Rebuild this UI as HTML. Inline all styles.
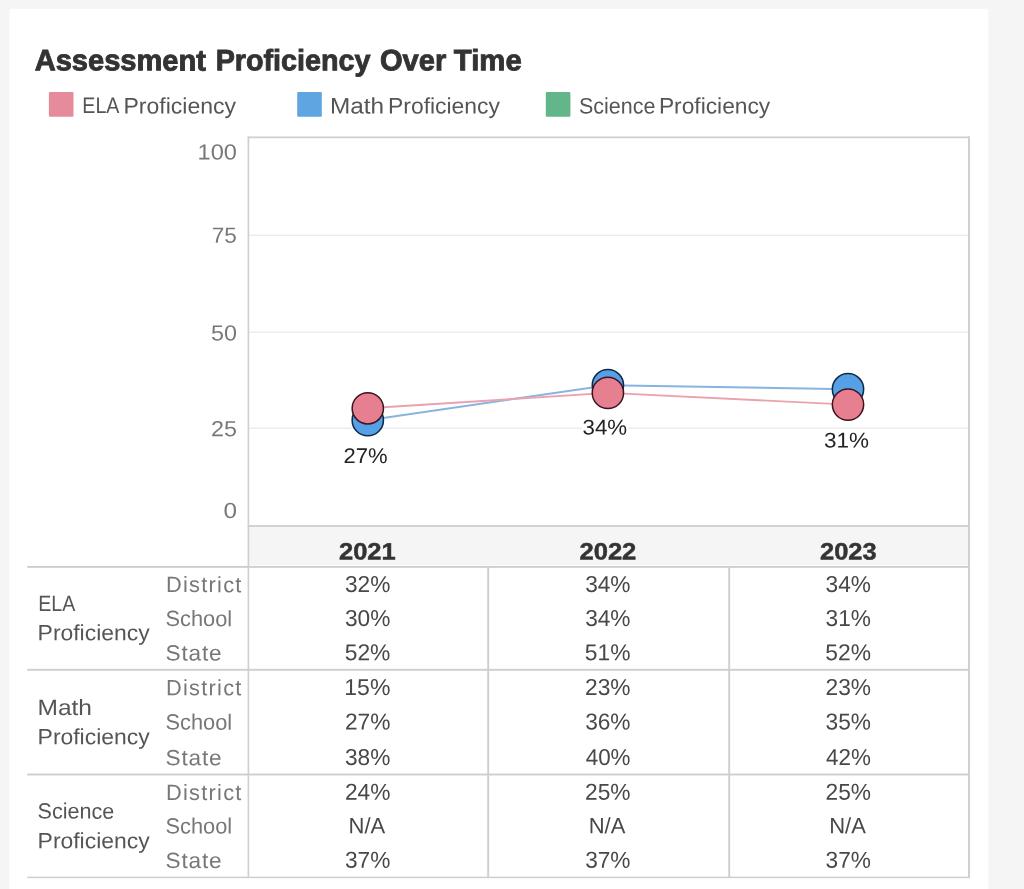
<!DOCTYPE html>
<html><head><meta charset="utf-8">
<style>
html,body{margin:0;padding:0;}
body{width:1024px;height:889px;background:#f5f5f5;position:relative;overflow:hidden;font-family:"Liberation Sans",sans-serif;}
.t{position:absolute;white-space:nowrap;line-height:1;transform-origin:0 0;}
.sw{position:absolute;border-radius:1px;}
svg{position:absolute;left:0;top:0;}
</style></head><body>
<svg width="1024" height="889" viewBox="0 0 1024 889">
<rect x="9.4" y="8.8" width="978.8" height="882" fill="#fff"/>
<rect x="48.9" y="92.1" width="24.6" height="24.7" rx="1" fill="#e68b9c"/>
<rect x="297.2" y="92.1" width="24.6" height="24.7" rx="1" fill="#5ea5e1"/>
<rect x="545.8" y="92.1" width="24.6" height="24.7" rx="1" fill="#63b58a"/>
<rect x="249" y="526.5" width="720" height="38.8" fill="#f5f5f5"/>
<rect x="249" y="234.60" width="719" height="1.4" fill="#ebebeb"/>
<rect x="249" y="331.60" width="719" height="1.4" fill="#ebebeb"/>
<rect x="249" y="427.60" width="719" height="1.4" fill="#ebebeb"/>
<rect x="342.5" y="446" width="46.2" height="19" fill="#fff"/>
<rect x="581.8" y="417.5" width="46.6" height="19.0" fill="#fff"/>
<rect x="823.3" y="430.5" width="47.0" height="19.0" fill="#fff"/>
<rect x="247.6" y="136.50" width="722.4" height="1.7" fill="#cecece"/>
<rect x="247.6" y="525.10" width="722.4" height="1.8" fill="#cecece"/>
<rect x="27.2" y="565.95" width="942.8" height="1.9" fill="#cecece"/>
<rect x="27.2" y="668.85" width="942.8" height="1.9" fill="#cecece"/>
<rect x="27.2" y="773.55" width="942.8" height="1.9" fill="#cecece"/>
<rect x="27.2" y="876.65" width="942.8" height="1.5" fill="#cecece"/>
<rect x="247.60" y="136.5" width="1.6" height="741.5" fill="#cecece"/>
<rect x="968.05" y="136.5" width="1.9" height="741.5" fill="#cecece"/>
<rect x="487.25" y="566" width="1.9" height="312" fill="#cecece"/>
<rect x="728.25" y="566" width="1.9" height="312" fill="#cecece"/>
<polyline points="367.8,420.2 607.9,385.2 848.0,389.2" fill="none" stroke="#86b5df" stroke-width="1.9"/>
<polyline points="367.8,408.3 607.9,392.9 848.0,404.6" fill="none" stroke="#eba2af" stroke-width="1.9"/>
<g stroke-width="1.5">
<circle cx="367.8" cy="420.2" r="15.65" fill="#55a0e6" stroke="#0e2a45"/><circle cx="367.8" cy="408.3" r="15.65" fill="#e67f90" stroke="#3b1420"/>
<circle cx="607.9" cy="385.2" r="15.65" fill="#55a0e6" stroke="#0e2a45"/><circle cx="607.9" cy="392.9" r="15.65" fill="#e67f90" stroke="#3b1420"/>
<circle cx="848.0" cy="389.2" r="15.65" fill="#55a0e6" stroke="#0e2a45"/><circle cx="848.0" cy="404.6" r="15.65" fill="#e67f90" stroke="#3b1420"/>
</g>
</svg>
<div id="t0" class="t" style="left:34px;top:45px;font-size:29.51px;font-weight:bold;-webkit-text-stroke:0.9px #333;color:#333;transform:translate(0.69px,0.31px) rotate(0.03deg) scaleX(0.9849)">Assessment</div>
<div id="t1" class="t" style="left:215px;top:45px;font-size:29.51px;font-weight:bold;-webkit-text-stroke:0.9px #333;color:#333;transform:translate(0.64px,0.31px) rotate(0.03deg) scaleX(0.9739)">Proficiency</div>
<div id="t2" class="t" style="left:380px;top:45px;font-size:29.51px;font-weight:bold;-webkit-text-stroke:0.9px #333;color:#333;transform:translate(0.02px,0.31px) rotate(0.03deg) scaleX(0.9857)">Over</div>
<div id="t3" class="t" style="left:453px;top:45px;font-size:29.51px;font-weight:bold;-webkit-text-stroke:0.9px #333;color:#333;transform:translate(0.86px,0.31px) rotate(0.03deg) scaleX(0.9926)">Time</div>
<div id="l0a" class="t" style="left:82px;top:95px;font-size:22.38px;color:#555;transform:translate(0.29px,0.40px) rotate(0.03deg) scaleX(0.8784)">ELA</div>
<div id="l0b" class="t" style="left:123px;top:95px;font-size:22.38px;color:#555;transform:translate(0.42px,0.40px) rotate(0.03deg) scaleX(1.0292)">Proficiency</div>
<div id="l1a" class="t" style="left:330px;top:95px;font-size:22.38px;color:#555;transform:translate(0.01px,0.40px) rotate(0.03deg) scaleX(1.0882)">Math</div>
<div id="l1b" class="t" style="left:388px;top:95px;font-size:22.38px;color:#555;transform:translate(0.03px,0.40px) rotate(0.03deg) scaleX(1.0227)">Proficiency</div>
<div id="l2a" class="t" style="left:578px;top:95px;font-size:22.38px;color:#555;transform:translate(1.00px,0.40px) rotate(0.03deg) scaleX(0.9594)">Science</div>
<div id="l2b" class="t" style="left:658px;top:95px;font-size:22.38px;color:#555;transform:translate(0.94px,0.40px) rotate(0.03deg) scaleX(1.0171)">Proficiency</div>
<div id="a100" class="t" style="left:197px;top:141px;font-size:21.86px;color:#787878;transform:translate(0.60px,0.40px) rotate(0.03deg) scaleX(1.0786)">100</div>
<div id="a75" class="t" style="left:211px;top:224px;font-size:21.86px;color:#787878;transform:translate(0.71px,0.70px) rotate(0.03deg) scaleX(1.0299)">75</div>
<div id="a50" class="t" style="left:211px;top:322px;font-size:21.86px;color:#787878;transform:translate(0.04px,0.40px) rotate(0.03deg) scaleX(1.0662)">50</div>
<div id="a25" class="t" style="left:211px;top:418px;font-size:21.86px;color:#787878;transform:translate(0.12px,0.20px) rotate(0.03deg) scaleX(1.0677)">25</div>
<div id="a0" class="t" style="left:223px;top:499px;font-size:21.86px;color:#787878;transform:translate(0.59px,0.90px) rotate(0.03deg) scaleX(1.1108)">0</div>
<div id="m0" class="t" style="left:343px;top:446px;font-size:21.29px;color:#222;transform:translate(0.40px,0.00px) rotate(0.03deg) scaleX(1.0344)">27%</div>
<div id="m1" class="t" style="left:582px;top:417px;font-size:21.29px;color:#222;transform:translate(0.56px,0.50px) rotate(0.03deg) scaleX(1.0471)">34%</div>
<div id="m2" class="t" style="left:824px;top:430px;font-size:21.29px;color:#222;transform:translate(0.05px,0.50px) rotate(0.03deg) scaleX(1.0570)">31%</div>
<div id="y0" class="t" style="left:338px;top:540px;font-size:23.71px;font-weight:bold;-webkit-text-stroke:0.5px #333;color:#333;transform:translate(0.99px,0.55px) rotate(0.03deg) scaleX(1.0755)">2021</div>
<div id="y1" class="t" style="left:579px;top:540px;font-size:23.71px;font-weight:bold;-webkit-text-stroke:0.5px #333;color:#333;transform:translate(0.49px,0.55px) rotate(0.03deg) scaleX(1.0777)">2022</div>
<div id="y2" class="t" style="left:819px;top:540px;font-size:23.71px;font-weight:bold;-webkit-text-stroke:0.5px #333;color:#333;transform:translate(0.99px,0.55px) rotate(0.03deg) scaleX(1.0741)">2023</div>
<div id="s0" class="t" style="left:165px;top:574px;font-size:22.09px;letter-spacing:1.3px;color:#777;transform:translate(0.91px,0.10px) rotate(0.03deg) scaleX(0.9859)">District</div>
<div id="c0_0" class="t" style="left:345px;top:572px;font-size:23.0px;color:#484848;transform:translate(0.00px,0.90px) rotate(0.03deg) scaleX(0.9855)">32%</div>
<div id="c0_1" class="t" style="left:585px;top:572px;font-size:23.0px;color:#484848;transform:translate(0.15px,0.90px) rotate(0.03deg) scaleX(0.9855)">34%</div>
<div id="c0_2" class="t" style="left:825px;top:572px;font-size:23.0px;color:#484848;transform:translate(0.60px,0.90px) rotate(0.03deg) scaleX(0.9855)">34%</div>
<div id="s1" class="t" style="left:165px;top:608px;font-size:22.09px;color:#777;transform:translate(0.58px,0.10px) rotate(0.03deg) scaleX(0.9864)">School</div>
<div id="c1_0" class="t" style="left:345px;top:606px;font-size:23.0px;color:#484848;transform:translate(0.00px,0.90px) rotate(0.03deg) scaleX(0.9855)">30%</div>
<div id="c1_1" class="t" style="left:585px;top:606px;font-size:23.0px;color:#484848;transform:translate(0.15px,0.90px) rotate(0.03deg) scaleX(0.9855)">34%</div>
<div id="c1_2" class="t" style="left:825px;top:606px;font-size:23.0px;color:#484848;transform:translate(0.60px,0.90px) rotate(0.03deg) scaleX(0.9855)">31%</div>
<div id="s2" class="t" style="left:165px;top:642px;font-size:22.09px;letter-spacing:0.8px;color:#777;transform:translate(0.53px,0.50px) rotate(0.03deg) scaleX(1.0242)">State</div>
<div id="c2_0" class="t" style="left:344px;top:641px;font-size:23.0px;color:#484848;transform:translate(0.72px,0.30px) rotate(0.03deg) scaleX(0.9919)">52%</div>
<div id="c2_1" class="t" style="left:584px;top:641px;font-size:23.0px;color:#484848;transform:translate(0.87px,0.30px) rotate(0.03deg) scaleX(0.9919)">51%</div>
<div id="c2_2" class="t" style="left:825px;top:641px;font-size:23.0px;color:#484848;transform:translate(0.32px,0.30px) rotate(0.03deg) scaleX(0.9919)">52%</div>
<div id="s3" class="t" style="left:165px;top:677px;font-size:22.09px;letter-spacing:1.3px;color:#777;transform:translate(0.91px,0.20px) rotate(0.03deg) scaleX(0.9859)">District</div>
<div id="c3_0" class="t" style="left:344px;top:676px;font-size:23.0px;color:#484848;transform:translate(0.31px,0.00px) rotate(0.03deg) scaleX(1.0010)">15%</div>
<div id="c3_1" class="t" style="left:585px;top:676px;font-size:23.0px;color:#484848;transform:translate(0.05px,0.00px) rotate(0.03deg) scaleX(0.9879)">23%</div>
<div id="c3_2" class="t" style="left:825px;top:676px;font-size:23.0px;color:#484848;transform:translate(0.50px,0.00px) rotate(0.03deg) scaleX(0.9879)">23%</div>
<div id="s4" class="t" style="left:165px;top:711px;font-size:22.09px;color:#777;transform:translate(0.58px,0.60px) rotate(0.03deg) scaleX(0.9864)">School</div>
<div id="c4_0" class="t" style="left:344px;top:710px;font-size:23.0px;color:#484848;transform:translate(0.90px,0.40px) rotate(0.03deg) scaleX(0.9879)">27%</div>
<div id="c4_1" class="t" style="left:585px;top:710px;font-size:23.0px;color:#484848;transform:translate(0.15px,0.40px) rotate(0.03deg) scaleX(0.9855)">36%</div>
<div id="c4_2" class="t" style="left:825px;top:710px;font-size:23.0px;color:#484848;transform:translate(0.60px,0.40px) rotate(0.03deg) scaleX(0.9855)">35%</div>
<div id="s5" class="t" style="left:165px;top:747px;font-size:22.09px;letter-spacing:0.8px;color:#777;transform:translate(0.53px,0.20px) rotate(0.03deg) scaleX(1.0242)">State</div>
<div id="c5_0" class="t" style="left:345px;top:746px;font-size:23.0px;color:#484848;transform:rotate(0.03deg) scaleX(0.9855)">38%</div>
<div id="c5_1" class="t" style="left:585px;top:746px;font-size:23.0px;color:#484848;transform:translate(0.68px,0.00px) rotate(0.03deg) scaleX(0.9738)">40%</div>
<div id="c5_2" class="t" style="left:826px;top:746px;font-size:23.0px;color:#484848;transform:translate(0.13px,0.00px) rotate(0.03deg) scaleX(0.9738)">42%</div>
<div id="s6" class="t" style="left:165px;top:782px;font-size:22.09px;letter-spacing:1.3px;color:#777;transform:translate(0.91px,0.00px) rotate(0.03deg) scaleX(0.9859)">District</div>
<div id="c6_0" class="t" style="left:344px;top:780px;font-size:23.0px;color:#484848;transform:translate(0.90px,0.80px) rotate(0.03deg) scaleX(0.9879)">24%</div>
<div id="c6_1" class="t" style="left:585px;top:780px;font-size:23.0px;color:#484848;transform:translate(0.05px,0.80px) rotate(0.03deg) scaleX(0.9879)">25%</div>
<div id="c6_2" class="t" style="left:825px;top:780px;font-size:23.0px;color:#484848;transform:translate(0.50px,0.80px) rotate(0.03deg) scaleX(0.9879)">25%</div>
<div id="s7" class="t" style="left:165px;top:815px;font-size:22.09px;color:#777;transform:translate(0.58px,0.40px) rotate(0.03deg) scaleX(0.9864)">School</div>
<div id="c7_0" class="t" style="left:348px;top:815px;font-size:22.24px;color:#484848;transform:translate(0.59px,0.20px) rotate(0.03deg) scaleX(0.9892)">N/A</div>
<div id="c7_1" class="t" style="left:588px;top:815px;font-size:22.24px;color:#484848;transform:translate(0.74px,0.20px) rotate(0.03deg) scaleX(0.9892)">N/A</div>
<div id="c7_2" class="t" style="left:829px;top:815px;font-size:22.24px;color:#484848;transform:translate(0.19px,0.20px) rotate(0.03deg) scaleX(0.9892)">N/A</div>
<div id="s8" class="t" style="left:165px;top:849px;font-size:22.09px;letter-spacing:0.8px;color:#777;transform:translate(0.53px,0.90px) rotate(0.03deg) scaleX(1.0242)">State</div>
<div id="c8_0" class="t" style="left:345px;top:848px;font-size:23.0px;color:#484848;transform:translate(0.00px,0.70px) rotate(0.03deg) scaleX(0.9855)">37%</div>
<div id="c8_1" class="t" style="left:585px;top:848px;font-size:23.0px;color:#484848;transform:translate(0.15px,0.70px) rotate(0.03deg) scaleX(0.9855)">37%</div>
<div id="c8_2" class="t" style="left:825px;top:848px;font-size:23.0px;color:#484848;transform:translate(0.60px,0.70px) rotate(0.03deg) scaleX(0.9855)">37%</div>
<div id="g0a" class="t" style="left:38px;top:593px;font-size:22.09px;color:#555;transform:translate(0.29px,0.00px) rotate(0.03deg) scaleX(0.8875)">ELA</div>
<div id="g0b" class="t" style="left:37px;top:622px;font-size:22.09px;color:#555;transform:translate(0.62px,0.20px) rotate(0.03deg) scaleX(1.0375)">Proficiency</div>
<div id="g1a" class="t" style="left:37px;top:697px;font-size:22.09px;color:#555;transform:translate(0.49px,0.00px) rotate(0.03deg) scaleX(1.1099)">Math</div>
<div id="g1b" class="t" style="left:37px;top:726px;font-size:22.09px;color:#555;transform:translate(0.62px,0.30px) rotate(0.03deg) scaleX(1.0375)">Proficiency</div>
<div id="g2a" class="t" style="left:37px;top:800px;font-size:22.09px;color:#555;transform:translate(0.59px,0.60px) rotate(0.03deg) scaleX(0.9764)">Science</div>
<div id="g2b" class="t" style="left:37px;top:830px;font-size:22.09px;color:#555;transform:translate(0.62px,0.20px) rotate(0.03deg) scaleX(1.0375)">Proficiency</div>
</body></html>
